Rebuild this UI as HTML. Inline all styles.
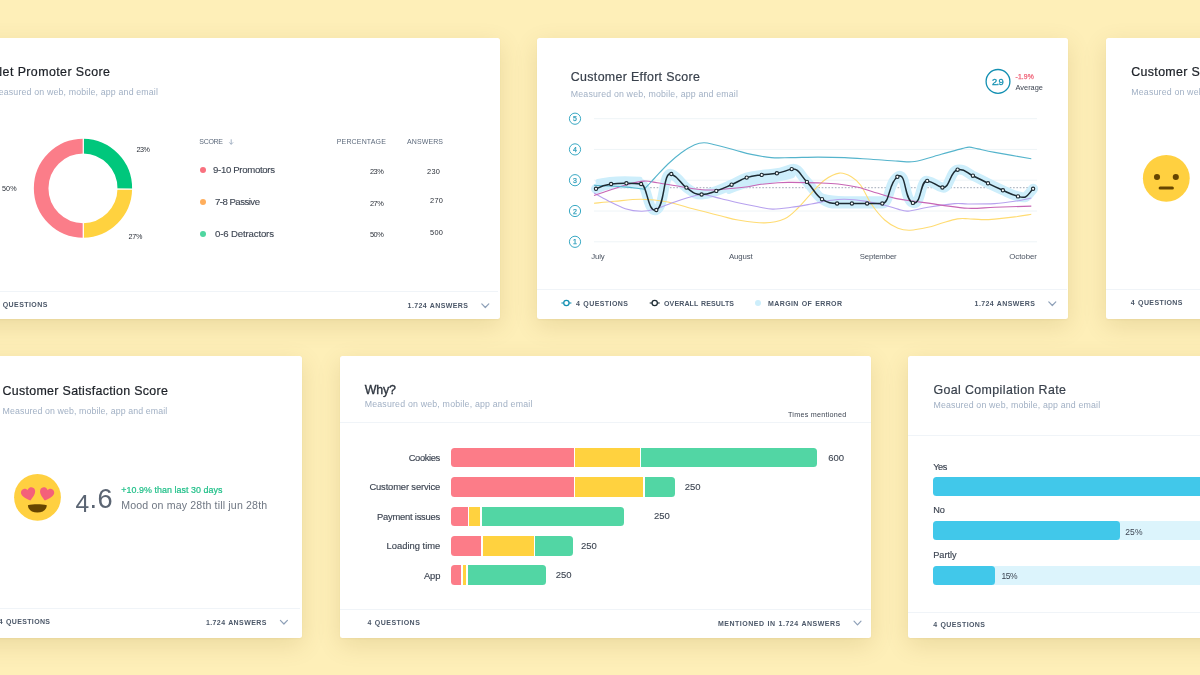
<!DOCTYPE html>
<html lang="en"><head><meta charset="utf-8"><title>Survey dashboard cards</title>
<style>
html,body{margin:0;padding:0}
body{width:1200px;height:675px;overflow:hidden;position:relative;background:#feefb8;font-family:"Liberation Sans",sans-serif}
.t{position:absolute;white-space:nowrap}
svg{overflow:visible;pointer-events:none}
</style></head><body>
<div style="position:absolute;left:-31.00px;top:38.00px;width:531.00px;height:281.00px;background:#fff;border-radius:2.5px;box-shadow:0 7px 24px rgba(110,85,10,.14),0 1px 2px rgba(110,85,10,.05);"></div>
<div style="position:absolute;left:537.00px;top:38.00px;width:531.20px;height:281.00px;background:#fff;border-radius:2.5px;box-shadow:0 7px 24px rgba(110,85,10,.14),0 1px 2px rgba(110,85,10,.05);"></div>
<div style="position:absolute;left:1106.00px;top:38.00px;width:531.00px;height:281.00px;background:#fff;border-radius:2.5px;box-shadow:0 7px 24px rgba(110,85,10,.14),0 1px 2px rgba(110,85,10,.05);"></div>
<div style="position:absolute;left:-229.00px;top:356.00px;width:531.00px;height:282.00px;background:#fff;border-radius:2.5px;box-shadow:0 7px 24px rgba(110,85,10,.14),0 1px 2px rgba(110,85,10,.05);"></div>
<div style="position:absolute;left:340.00px;top:356.00px;width:531.00px;height:282.00px;background:#fff;border-radius:2.5px;box-shadow:0 7px 24px rgba(110,85,10,.14),0 1px 2px rgba(110,85,10,.05);"></div>
<div style="position:absolute;left:908.30px;top:356.00px;width:531.00px;height:282.00px;background:#fff;border-radius:2.5px;box-shadow:0 7px 24px rgba(110,85,10,.14),0 1px 2px rgba(110,85,10,.05);"></div>
<span class="t" style="left:-6.80px;top:65px;line-height:14px;font-size:12.4px;color:#1c2027;letter-spacing:0.425px;-webkit-text-stroke:0.22px #1c2027;">Net Promoter Score</span>
<span class="t" style="left:-8.80px;top:87px;line-height:10px;font-size:8.8px;color:#a1b0c4;letter-spacing:0.158px;">Measured on web, mobile, app and email</span>
<svg style="position:absolute;left:0;top:0" width="1200" height="675"><path d="M83.30 146.15 A42.15 42.15 0 0 1 124.80 188.95" fill="none" stroke="#00c77c" stroke-width="14.60"/><path d="M124.80 188.95 A42.15 42.15 0 0 1 83.30 230.45" fill="none" stroke="#ffd23f" stroke-width="14.60"/><path d="M83.30 230.45 A42.15 42.15 0 1 1 83.30 146.15" fill="none" stroke="#fb7d89" stroke-width="14.60"/><path d="M83.3 137 V155 M83.3 221 V240 M116 189 H134" stroke="#fff" stroke-width="1.25" fill="none"/></svg>
<span class="t" style="left:136.50px;top:145px;line-height:9px;font-size:7.2px;color:#2a2f38;letter-spacing:-0.455px;">23%</span>
<span class="t" style="left:2.00px;top:184px;line-height:9px;font-size:7.2px;color:#2a2f38;letter-spacing:0.095px;">50%</span>
<span class="t" style="left:128.60px;top:232px;line-height:9px;font-size:7.2px;color:#2a2f38;letter-spacing:-0.255px;">27%</span>
<span class="t" style="left:199.30px;top:138px;line-height:7px;font-size:7px;color:#5d6a7c;letter-spacing:-0.298px;">SCORE</span>
<svg style="position:absolute;left:0;top:0" width="1200" height="675"><path d="M231.2 139.3 V144.3 M229.3 142.4 L231.2 144.3 L233.1 142.4" fill="none" stroke="#9aa9bd" stroke-width="0.9"/></svg>
<span class="t" style="left:336.80px;top:138px;line-height:7px;font-size:7px;color:#5d6a7c;letter-spacing:0.143px;">PERCENTAGE</span>
<span class="t" style="left:407.00px;top:138px;line-height:7px;font-size:7px;color:#5d6a7c;letter-spacing:0.101px;">ANSWERS</span>
<div style="position:absolute;left:199.90px;top:167.20px;width:6.20px;height:6.20px;background:#f9717f;border-radius:50%;"></div>
<span class="t" style="left:213.00px;top:164px;line-height:11px;font-size:9.6px;color:#3d4552;letter-spacing:-0.320px;-webkit-text-stroke:0.12px #3d4552;">9-10 Promotors</span>
<span class="t" style="left:370.00px;top:167px;line-height:9px;font-size:7.4px;color:#2a2f38;letter-spacing:-0.505px;">23%</span>
<span class="t" style="left:427.00px;top:167px;line-height:9px;font-size:7.4px;color:#2a2f38;letter-spacing:0.327px;">230</span>
<div style="position:absolute;left:199.90px;top:198.90px;width:6.20px;height:6.20px;background:#ffae5c;border-radius:50%;"></div>
<span class="t" style="left:215.00px;top:196px;line-height:11px;font-size:9.6px;color:#3d4552;letter-spacing:-0.516px;-webkit-text-stroke:0.12px #3d4552;">7-8 Passive</span>
<span class="t" style="left:370.00px;top:199px;line-height:9px;font-size:7.4px;color:#2a2f38;letter-spacing:-0.505px;">27%</span>
<span class="t" style="left:430.00px;top:196px;line-height:9px;font-size:7.4px;color:#2a2f38;letter-spacing:0.327px;">270</span>
<div style="position:absolute;left:199.90px;top:230.90px;width:6.20px;height:6.20px;background:#4fd6a0;border-radius:50%;"></div>
<span class="t" style="left:215.00px;top:228px;line-height:11px;font-size:9.6px;color:#3d4552;letter-spacing:-0.140px;-webkit-text-stroke:0.12px #3d4552;">0-6 Detractors</span>
<span class="t" style="left:370.00px;top:230px;line-height:9px;font-size:7.4px;color:#2a2f38;letter-spacing:-0.505px;">50%</span>
<span class="t" style="left:430.00px;top:228px;line-height:9px;font-size:7.4px;color:#2a2f38;letter-spacing:0.327px;">500</span>
<div style="position:absolute;left:-31.00px;top:290.90px;width:529.00px;height:1.40px;background:#f0f4f8;"></div>
<span class="t" style="left:-4.60px;top:301px;line-height:7px;font-size:7px;color:#4b5768;letter-spacing:0.433px;font-weight:700;word-spacing:0.6px;">4 QUESTIONS</span>
<span class="t" style="left:407.60px;top:302px;line-height:7px;font-size:7px;color:#4b5768;letter-spacing:0.402px;font-weight:700;word-spacing:0.6px;">1.724 ANSWERS</span>
<svg style="position:absolute;left:0;top:0" width="1200" height="675"><path d="M481.80 303.90 L485.30 307.50 L488.80 303.90" fill="none" stroke="#8ea0b8" stroke-width="1.2" stroke-linecap="round" stroke-linejoin="round"/></svg>
<span class="t" style="left:570.80px;top:70px;line-height:14px;font-size:12.4px;color:#39414c;letter-spacing:0.338px;-webkit-text-stroke:0.2px #39414c;">Customer Effort Score</span>
<span class="t" style="left:570.80px;top:89px;line-height:10px;font-size:8.8px;color:#a1b0c4;letter-spacing:0.169px;">Measured on web, mobile, app and email</span>
<svg style="position:absolute;left:0;top:0" width="1200" height="675"><circle cx="998" cy="81.4" r="11.9" fill="#fff" stroke="#1390b2" stroke-width="1.3"/></svg>
<span class="t" style="left:992.00px;top:76px;line-height:11px;font-size:9.4px;color:#1390b2;letter-spacing:-0.634px;-webkit-text-stroke:0.3px #1390b2;">2.9</span>
<span class="t" style="left:1015.50px;top:73px;line-height:7px;font-size:6.8px;color:#f0667b;letter-spacing:0.134px;-webkit-text-stroke:0.25px #f0667b;">-1.9%</span>
<span class="t" style="left:1015.50px;top:83px;line-height:9px;font-size:7.4px;color:#3d4552;letter-spacing:0.012px;">Average</span>
<svg style="position:absolute;left:0;top:0" width="1200" height="675"><path d="M594 118.7 H1037" stroke="#eef4f7" stroke-width="1" fill="none"/><path d="M594 149.4 H1037" stroke="#eef4f7" stroke-width="1" fill="none"/><path d="M594 180.2 H1037" stroke="#eef4f7" stroke-width="1" fill="none"/><path d="M594 211.0 H1037" stroke="#eef4f7" stroke-width="1" fill="none"/><path d="M594 241.8 H1037" stroke="#eef4f7" stroke-width="1" fill="none"/><path d="M594 187.7 H1037" stroke="#b3bac5" stroke-width="1.2" stroke-dasharray="1.6 1.7" fill="none"/><path d="M596.00 188.80 C602.34 185.31 604.76 184.76 611.10 184.00 C617.53 183.23 619.97 183.30 626.40 183.30 C632.57 183.30 634.93 183.26 641.10 184.00 C647.48 184.77 647.48 213.09 656.30 210.00 C665.00 206.96 663.05 170.29 671.30 174.00 C679.61 177.74 680.06 183.16 686.40 187.60 C692.78 192.07 694.00 194.50 701.60 194.50 C708.95 194.50 710.13 192.88 716.30 190.90 C722.73 188.84 725.17 187.46 731.60 184.70 C737.94 181.97 740.36 179.63 746.70 177.60 C753.00 175.58 755.40 175.72 761.70 174.90 C768.08 174.07 770.52 174.39 776.90 173.30 C783.12 172.24 785.04 170.77 791.70 169.10 C798.54 167.39 800.52 175.52 806.90 181.90 C813.24 188.24 815.66 195.27 822.00 199.20 C828.34 203.13 830.76 203.50 837.10 203.50 C843.32 203.50 845.68 203.50 851.90 203.50 C858.28 203.50 860.72 203.50 867.10 203.50 C873.48 203.50 874.70 203.50 882.30 203.50 C889.85 203.50 888.34 183.14 897.40 176.80 C906.70 170.29 903.60 199.65 912.90 202.90 C921.48 205.90 920.05 179.83 927.20 180.90 C934.80 182.04 935.10 185.68 942.40 187.50 C949.70 189.32 950.00 170.84 957.60 169.70 C965.25 168.55 966.47 172.81 972.90 175.70 C979.24 178.55 981.66 180.19 988.00 183.30 C994.26 186.37 996.64 187.48 1002.90 190.30 C1009.24 193.15 1008.64 193.59 1018.00 196.40 C1027.36 199.21 1026.76 195.78 1033.10 188.80" fill="none" stroke="#cdeefb" stroke-width="10" stroke-linecap="round" stroke-linejoin="round"/><path d="M822 196.5 C830 198.8 836 199.3 845 199.3 H884" fill="none" stroke="#cdeefb" stroke-width="6" stroke-linecap="round"/><path d="M729 191 C740 186.5 752 183.2 762 181.6 C772 180 782 178.4 792 175.4" fill="none" stroke="#cdeefb" stroke-width="6" stroke-linecap="round"/><path d="M598 181.5 C608 178.8 625 178.2 640 179.2" fill="none" stroke="#cdeefb" stroke-width="5" stroke-linecap="round"/><path d="M594.00 203.30 C597.45 202.97 606.82 201.97 614.70 201.30 C622.58 200.63 632.42 199.18 641.30 199.30 C650.18 199.42 659.10 200.33 668.00 202.00 C676.90 203.67 685.82 206.97 694.70 209.30 C703.58 211.63 714.08 214.22 721.30 216.00 C728.52 217.78 730.77 218.85 738.00 220.00 C745.23 221.15 756.92 223.12 764.70 222.90 C772.48 222.68 779.15 221.18 784.70 218.70 C790.25 216.22 793.57 212.23 798.00 208.00 C802.43 203.77 806.85 197.97 811.30 193.30 C815.75 188.63 820.03 183.37 824.70 180.00 C829.37 176.63 834.87 173.65 839.30 173.10 C843.73 172.55 847.73 174.67 851.30 176.70 C854.87 178.73 857.37 180.75 860.70 185.30 C864.03 189.85 867.30 198.22 871.30 204.00 C875.30 209.78 880.25 215.97 884.70 220.00 C889.15 224.03 893.78 226.50 898.00 228.20 C902.22 229.90 905.00 230.35 910.00 230.20 C915.00 230.05 922.78 228.45 928.00 227.30 C933.22 226.15 936.42 224.70 941.30 223.30 C946.18 221.90 952.85 219.67 957.30 218.90 C961.75 218.13 964.00 218.58 968.00 218.70 C972.00 218.82 976.85 219.53 981.30 219.60 C985.75 219.67 989.13 219.55 994.70 219.10 C1000.27 218.65 1008.60 217.70 1014.70 216.90 C1020.80 216.10 1028.53 214.73 1031.30 214.30" fill="none" stroke="#ffdc73" stroke-width="1.1"/><path d="M594.00 193.00 C596.33 194.28 602.78 198.08 608.00 200.70 C613.22 203.32 619.75 206.93 625.30 208.70 C630.85 210.47 636.40 211.20 641.30 211.30 C646.20 211.40 649.13 210.85 654.70 209.30 C660.27 207.75 668.03 204.25 674.70 202.00 C681.37 199.75 689.82 197.00 694.70 195.80 C699.58 194.60 699.57 194.32 704.00 194.80 C708.43 195.28 715.63 197.38 721.30 198.70 C726.97 200.02 731.88 201.37 738.00 202.70 C744.12 204.03 752.22 205.63 758.00 206.70 C763.78 207.77 767.15 209.00 772.70 209.10 C778.25 209.20 784.87 208.15 791.30 207.30 C797.73 206.45 804.63 205.17 811.30 204.00 C817.97 202.83 825.73 201.08 831.30 200.30 C836.87 199.52 839.13 199.17 844.70 199.30 C850.27 199.43 858.03 200.10 864.70 201.10 C871.37 202.10 879.15 203.97 884.70 205.30 C890.25 206.63 894.12 208.13 898.00 209.10 C901.88 210.07 903.00 211.40 908.00 211.10 C913.00 210.80 920.22 208.55 928.00 207.30 C935.78 206.05 948.03 204.15 954.70 203.60 C961.37 203.05 961.33 204.00 968.00 204.00 C974.67 204.00 986.92 204.05 994.70 203.60 C1002.48 203.15 1008.60 202.23 1014.70 201.30 C1020.80 200.37 1028.53 198.55 1031.30 198.00" fill="none" stroke="#b7a1ee" stroke-width="1.1"/><path d="M594.00 195.60 C596.33 194.78 602.55 192.52 608.00 190.70 C613.45 188.88 620.70 186.30 626.70 184.70 C632.70 183.10 638.90 181.43 644.00 181.10 C649.10 180.77 651.08 181.77 657.30 182.70 C663.52 183.63 673.30 185.48 681.30 186.70 C689.30 187.92 697.52 189.67 705.30 190.00 C713.08 190.33 720.88 189.25 728.00 188.70 C735.12 188.15 743.00 187.37 748.00 186.70 C753.00 186.03 753.00 185.37 758.00 184.70 C763.00 184.03 772.45 183.08 778.00 182.70 C783.55 182.32 784.63 182.37 791.30 182.40 C797.97 182.43 810.22 182.63 818.00 182.90 C825.78 183.17 831.33 183.27 838.00 184.00 C844.67 184.73 851.33 185.75 858.00 187.30 C864.67 188.85 871.33 191.37 878.00 193.30 C884.67 195.23 891.88 197.57 898.00 198.90 C904.12 200.23 907.48 200.27 914.70 201.30 C921.92 202.33 932.42 203.93 941.30 205.10 C950.18 206.27 959.10 207.93 968.00 208.30 C976.90 208.67 984.15 207.67 994.70 207.30 C1005.25 206.93 1025.20 206.30 1031.30 206.10" fill="none" stroke="#c765b5" stroke-width="1.1"/><path d="M594.00 185.30 C596.78 185.42 605.25 185.70 610.70 186.00 C616.15 186.30 621.60 186.65 626.70 187.10 C631.80 187.55 638.25 188.52 641.30 188.70 C644.35 188.88 642.77 189.98 645.00 188.20 C647.23 186.42 650.87 182.03 654.70 178.00 C658.53 173.97 663.57 168.22 668.00 164.00 C672.43 159.78 676.85 155.92 681.30 152.70 C685.75 149.48 690.92 146.37 694.70 144.70 C698.48 143.03 700.67 142.70 704.00 142.70 C707.33 142.70 709.58 143.48 714.70 144.70 C719.82 145.92 728.60 148.38 734.70 150.00 C740.80 151.62 745.20 153.13 751.30 154.40 C757.40 155.67 764.63 157.07 771.30 157.60 C777.97 158.13 783.52 157.68 791.30 157.60 C799.08 157.52 809.10 157.10 818.00 157.10 C826.90 157.10 835.82 157.23 844.70 157.60 C853.58 157.97 862.42 158.72 871.30 159.30 C880.18 159.88 890.77 160.73 898.00 161.10 C905.23 161.47 907.48 162.63 914.70 161.50 C921.92 160.37 933.42 156.45 941.30 154.30 C949.18 152.15 957.33 149.80 962.00 148.60 C966.67 147.40 966.63 147.05 969.30 147.10 C971.97 147.15 973.77 148.02 978.00 148.90 C982.23 149.78 985.82 150.77 994.70 152.40 C1003.58 154.03 1025.20 157.65 1031.30 158.70" fill="none" stroke="#55b4cc" stroke-width="1.1"/><path d="M596.00 188.80 C602.34 185.31 604.76 184.76 611.10 184.00 C617.53 183.23 619.97 183.30 626.40 183.30 C632.57 183.30 634.93 183.26 641.10 184.00 C647.48 184.77 647.48 213.09 656.30 210.00 C665.00 206.96 663.05 170.29 671.30 174.00 C679.61 177.74 680.06 183.16 686.40 187.60 C692.78 192.07 694.00 194.50 701.60 194.50 C708.95 194.50 710.13 192.88 716.30 190.90 C722.73 188.84 725.17 187.46 731.60 184.70 C737.94 181.97 740.36 179.63 746.70 177.60 C753.00 175.58 755.40 175.72 761.70 174.90 C768.08 174.07 770.52 174.39 776.90 173.30 C783.12 172.24 785.04 170.77 791.70 169.10 C798.54 167.39 800.52 175.52 806.90 181.90 C813.24 188.24 815.66 195.27 822.00 199.20 C828.34 203.13 830.76 203.50 837.10 203.50 C843.32 203.50 845.68 203.50 851.90 203.50 C858.28 203.50 860.72 203.50 867.10 203.50 C873.48 203.50 874.70 203.50 882.30 203.50 C889.85 203.50 888.34 183.14 897.40 176.80 C906.70 170.29 903.60 199.65 912.90 202.90 C921.48 205.90 920.05 179.83 927.20 180.90 C934.80 182.04 935.10 185.68 942.40 187.50 C949.70 189.32 950.00 170.84 957.60 169.70 C965.25 168.55 966.47 172.81 972.90 175.70 C979.24 178.55 981.66 180.19 988.00 183.30 C994.26 186.37 996.64 187.48 1002.90 190.30 C1009.24 193.15 1008.64 193.59 1018.00 196.40 C1027.36 199.21 1026.76 195.78 1033.10 188.80" fill="none" stroke="#1d2b33" stroke-width="1.5" stroke-linejoin="round"/><circle cx="596.0" cy="188.8" r="1.65" fill="#fff" stroke="#1d2b33" stroke-width="1.1"/><circle cx="611.1" cy="184.0" r="1.65" fill="#fff" stroke="#1d2b33" stroke-width="1.1"/><circle cx="626.4" cy="183.3" r="1.65" fill="#fff" stroke="#1d2b33" stroke-width="1.1"/><circle cx="641.1" cy="184.0" r="1.65" fill="#fff" stroke="#1d2b33" stroke-width="1.1"/><circle cx="656.3" cy="210.0" r="1.65" fill="#fff" stroke="#1d2b33" stroke-width="1.1"/><circle cx="671.3" cy="174.0" r="1.65" fill="#fff" stroke="#1d2b33" stroke-width="1.1"/><circle cx="686.4" cy="187.6" r="1.65" fill="#fff" stroke="#1d2b33" stroke-width="1.1"/><circle cx="701.6" cy="194.5" r="1.65" fill="#fff" stroke="#1d2b33" stroke-width="1.1"/><circle cx="716.3" cy="190.9" r="1.65" fill="#fff" stroke="#1d2b33" stroke-width="1.1"/><circle cx="731.6" cy="184.7" r="1.65" fill="#fff" stroke="#1d2b33" stroke-width="1.1"/><circle cx="746.7" cy="177.6" r="1.65" fill="#fff" stroke="#1d2b33" stroke-width="1.1"/><circle cx="761.7" cy="174.9" r="1.65" fill="#fff" stroke="#1d2b33" stroke-width="1.1"/><circle cx="776.9" cy="173.3" r="1.65" fill="#fff" stroke="#1d2b33" stroke-width="1.1"/><circle cx="791.7" cy="169.1" r="1.65" fill="#fff" stroke="#1d2b33" stroke-width="1.1"/><circle cx="806.9" cy="181.9" r="1.65" fill="#fff" stroke="#1d2b33" stroke-width="1.1"/><circle cx="822.0" cy="199.2" r="1.65" fill="#fff" stroke="#1d2b33" stroke-width="1.1"/><circle cx="837.1" cy="203.5" r="1.65" fill="#fff" stroke="#1d2b33" stroke-width="1.1"/><circle cx="851.9" cy="203.5" r="1.65" fill="#fff" stroke="#1d2b33" stroke-width="1.1"/><circle cx="867.1" cy="203.5" r="1.65" fill="#fff" stroke="#1d2b33" stroke-width="1.1"/><circle cx="882.3" cy="203.5" r="1.65" fill="#fff" stroke="#1d2b33" stroke-width="1.1"/><circle cx="897.4" cy="176.8" r="1.65" fill="#fff" stroke="#1d2b33" stroke-width="1.1"/><circle cx="912.9" cy="202.9" r="1.65" fill="#fff" stroke="#1d2b33" stroke-width="1.1"/><circle cx="927.2" cy="180.9" r="1.65" fill="#fff" stroke="#1d2b33" stroke-width="1.1"/><circle cx="942.4" cy="187.5" r="1.65" fill="#fff" stroke="#1d2b33" stroke-width="1.1"/><circle cx="957.6" cy="169.7" r="1.65" fill="#fff" stroke="#1d2b33" stroke-width="1.1"/><circle cx="972.9" cy="175.7" r="1.65" fill="#fff" stroke="#1d2b33" stroke-width="1.1"/><circle cx="988.0" cy="183.3" r="1.65" fill="#fff" stroke="#1d2b33" stroke-width="1.1"/><circle cx="1002.9" cy="190.3" r="1.65" fill="#fff" stroke="#1d2b33" stroke-width="1.1"/><circle cx="1018.0" cy="196.4" r="1.65" fill="#fff" stroke="#1d2b33" stroke-width="1.1"/><circle cx="1033.1" cy="188.8" r="1.65" fill="#fff" stroke="#1d2b33" stroke-width="1.1"/><circle cx="575" cy="118.7" r="5.6" fill="#fff" stroke="#3aa9c4" stroke-width="1"/><circle cx="575" cy="149.4" r="5.6" fill="#fff" stroke="#3aa9c4" stroke-width="1"/><circle cx="575" cy="180.2" r="5.6" fill="#fff" stroke="#3aa9c4" stroke-width="1"/><circle cx="575" cy="211.0" r="5.6" fill="#fff" stroke="#3aa9c4" stroke-width="1"/><circle cx="575" cy="241.8" r="5.6" fill="#fff" stroke="#3aa9c4" stroke-width="1"/></svg>
<span class="t" style="left:573.10px;top:115px;line-height:7px;font-size:7px;color:#2f9fbc;-webkit-text-stroke:0.25px #2f9fbc;">5</span>
<span class="t" style="left:573.10px;top:146px;line-height:7px;font-size:7px;color:#2f9fbc;-webkit-text-stroke:0.25px #2f9fbc;">4</span>
<span class="t" style="left:573.10px;top:177px;line-height:7px;font-size:7px;color:#2f9fbc;-webkit-text-stroke:0.25px #2f9fbc;">3</span>
<span class="t" style="left:573.10px;top:208px;line-height:7px;font-size:7px;color:#2f9fbc;-webkit-text-stroke:0.25px #2f9fbc;">2</span>
<span class="t" style="left:573.10px;top:238px;line-height:7px;font-size:7px;color:#2f9fbc;-webkit-text-stroke:0.25px #2f9fbc;">1</span>
<span class="t" style="left:591.30px;top:252px;line-height:9px;font-size:7.8px;color:#4a5361;letter-spacing:-0.190px;">July</span>
<span class="t" style="left:729.00px;top:252px;line-height:9px;font-size:7.8px;color:#4a5361;letter-spacing:-0.097px;">August</span>
<span class="t" style="left:859.70px;top:252px;line-height:9px;font-size:7.8px;color:#4a5361;letter-spacing:-0.144px;">September</span>
<span class="t" style="left:1009.30px;top:252px;line-height:9px;font-size:7.8px;color:#4a5361;letter-spacing:-0.024px;">October</span>
<div style="position:absolute;left:537.00px;top:288.70px;width:529.50px;height:1.40px;background:#f0f4f8;"></div>
<svg style="position:absolute;left:0;top:0" width="1200" height="675"><path d="M561.4 303 H571.4" stroke="#1390b2" stroke-width="1.1"/><circle cx="566.4" cy="303" r="2.65" fill="#fff" stroke="#1390b2" stroke-width="1.25"/></svg>
<span class="t" style="left:576.00px;top:300px;line-height:7px;font-size:7px;color:#4b5768;letter-spacing:0.433px;font-weight:700;word-spacing:0.6px;">4 QUESTIONS</span>
<svg style="position:absolute;left:0;top:0" width="1200" height="675"><path d="M649.7 303 H659.7" stroke="#1d2b33" stroke-width="1.1"/><circle cx="654.7" cy="303" r="2.65" fill="#fff" stroke="#1d2b33" stroke-width="1.25"/></svg>
<span class="t" style="left:664.00px;top:300px;line-height:7px;font-size:7px;color:#4b5768;letter-spacing:0.142px;font-weight:700;word-spacing:0.6px;">OVERALL RESULTS</span>
<div style="position:absolute;left:754.70px;top:299.70px;width:6.60px;height:6.60px;background:#cdeefb;border-radius:50%;"></div>
<span class="t" style="left:768.00px;top:300px;line-height:7px;font-size:7px;color:#4b5768;letter-spacing:0.395px;font-weight:700;word-spacing:0.6px;">MARGIN OF ERROR</span>
<span class="t" style="left:974.60px;top:300px;line-height:7px;font-size:7px;color:#4b5768;letter-spacing:0.402px;font-weight:700;word-spacing:0.6px;">1.724 ANSWERS</span>
<svg style="position:absolute;left:0;top:0" width="1200" height="675"><path d="M1048.80 301.90 L1052.30 305.50 L1055.80 301.90" fill="none" stroke="#8ea0b8" stroke-width="1.2" stroke-linecap="round" stroke-linejoin="round"/></svg>
<span class="t" style="left:1131.30px;top:65px;line-height:14px;font-size:12.4px;color:#1c2027;letter-spacing:0.341px;-webkit-text-stroke:0.22px #1c2027;">Customer Satisfaction Score</span>
<span class="t" style="left:1131.30px;top:87px;line-height:10px;font-size:8.8px;color:#a1b0c4;letter-spacing:0.169px;">Measured on web, mobile, app and email</span>
<svg style="position:absolute;left:0;top:0" width="1200" height="675"><circle cx="1166.3" cy="178.3" r="23.4" fill="#ffd040"/><circle cx="1157" cy="177" r="3.05" fill="#664500"/><circle cx="1175.8" cy="177" r="3.05" fill="#664500"/><path d="M1160.1 188 H1172.4" stroke="#664500" stroke-width="3" stroke-linecap="round"/></svg>
<div style="position:absolute;left:1106.00px;top:288.70px;width:94.00px;height:1.40px;background:#f0f4f8;"></div>
<span class="t" style="left:1130.80px;top:299px;line-height:7px;font-size:7px;color:#4b5768;letter-spacing:0.403px;font-weight:700;word-spacing:0.6px;">4 QUESTIONS</span>
<span class="t" style="left:2.50px;top:384px;line-height:14px;font-size:12.4px;color:#1c2027;letter-spacing:0.322px;-webkit-text-stroke:0.22px #1c2027;">Customer Satisfaction Score</span>
<span class="t" style="left:2.50px;top:406px;line-height:10px;font-size:8.8px;color:#a1b0c4;letter-spacing:0.102px;">Measured on web, mobile, app and email</span>
<svg style="position:absolute;left:0;top:0" width="1200" height="675"><circle cx="37.5" cy="497.3" r="23.4" fill="#ffd040"/>
<g fill="#f4607a"><path transform="translate(28.7,494.5) rotate(-14) scale(0.6)" d="M0 10.5 C-3 8 -12 2 -12 -4.5 C-12 -9 -8.5 -11 -5.8 -11 C-3 -11 -1 -9.3 0 -7.3 C1 -9.3 3 -11 5.8 -11 C8.5 -11 12 -9 12 -4.5 C12 2 3 8 0 10.5Z"/>
<path transform="translate(46.5,494.5) rotate(14) scale(0.6)" d="M0 10.5 C-3 8 -12 2 -12 -4.5 C-12 -9 -8.5 -11 -5.8 -11 C-3 -11 -1 -9.3 0 -7.3 C1 -9.3 3 -11 5.8 -11 C8.5 -11 12 -9 12 -4.5 C12 2 3 8 0 10.5Z"/></g>
<path d="M27.9 505.3 C33 504 41.5 504 46.8 505.3 C46.5 510 42.5 512.6 37.35 512.6 C32.2 512.6 28.2 510 27.9 505.3Z" fill="#664500"/></svg>
<span class="t" style="left:75.6px;top:481px;line-height:36px;font-size:27.2px;color:#5b6573;letter-spacing:0.3px"><span style="font-size:24.6px;position:relative;top:4px">4</span>.6</span>
<span class="t" style="left:121.30px;top:485px;line-height:10px;font-size:8.9px;color:#1dbf87;letter-spacing:0.048px;-webkit-text-stroke:0.2px #1dbf87;">+10.9% than last 30 days</span>
<span class="t" style="left:121.30px;top:499px;line-height:12px;font-size:10.6px;color:#6f7783;letter-spacing:0.155px;">Mood on may 28th till jun 28th</span>
<div style="position:absolute;left:-229.00px;top:607.70px;width:529.00px;height:1.40px;background:#f0f4f8;"></div>
<span class="t" style="left:-1.20px;top:618px;line-height:7px;font-size:7px;color:#4b5768;letter-spacing:0.353px;font-weight:700;word-spacing:0.6px;">4 QUESTIONS</span>
<span class="t" style="left:205.90px;top:619px;line-height:7px;font-size:7px;color:#4b5768;letter-spacing:0.410px;font-weight:700;word-spacing:0.6px;">1.724 ANSWERS</span>
<svg style="position:absolute;left:0;top:0" width="1200" height="675"><path d="M280.40 620.40 L283.90 624.00 L287.40 620.40" fill="none" stroke="#8ea0b8" stroke-width="1.2" stroke-linecap="round" stroke-linejoin="round"/></svg>
<span class="t" style="left:364.70px;top:383px;line-height:14px;font-size:12.4px;color:#2e353f;letter-spacing:-0.132px;-webkit-text-stroke:0.35px #2e353f;">Why?</span>
<span class="t" style="left:364.70px;top:399px;line-height:10px;font-size:8.8px;color:#a1b0c4;letter-spacing:0.183px;">Measured on web, mobile, app and email</span>
<span class="t" style="left:788.00px;top:410px;line-height:9px;font-size:7.2px;color:#3d4552;letter-spacing:0.246px;">Times mentioned</span>
<div style="position:absolute;left:340.00px;top:421.50px;width:531.00px;height:1.40px;background:#f0f4f8;"></div>
<div style="position:absolute;left:450.70px;top:447.60px;width:123.10px;height:19.60px;background:#fc7c88;border-radius:3.5px 0 0 3.5px;"></div>
<div style="position:absolute;left:575.30px;top:447.60px;width:64.40px;height:19.60px;background:#ffd23f;border-radius:0;"></div>
<div style="position:absolute;left:641.20px;top:447.60px;width:175.70px;height:19.60px;background:#52d6a4;border-radius:0 3.5px 3.5px 0;"></div>
<span class="t" style="left:408.70px;top:452px;line-height:11px;font-size:9.4px;color:#3d4552;letter-spacing:-0.377px;-webkit-text-stroke:0.15px #3d4552;">Cookies</span>
<span class="t" style="left:828.30px;top:452px;line-height:11px;font-size:9.5px;color:#3d4552;-webkit-text-stroke:0.1px #3d4552;">600</span>
<div style="position:absolute;left:450.70px;top:477.10px;width:123.10px;height:19.60px;background:#fc7c88;border-radius:3.5px 0 0 3.5px;"></div>
<div style="position:absolute;left:575.30px;top:477.10px;width:68.20px;height:19.60px;background:#ffd23f;border-radius:0;"></div>
<div style="position:absolute;left:645.00px;top:477.10px;width:30.30px;height:19.60px;background:#52d6a4;border-radius:0 3.5px 3.5px 0;"></div>
<span class="t" style="left:369.40px;top:481px;line-height:11px;font-size:9.4px;color:#3d4552;letter-spacing:-0.142px;-webkit-text-stroke:0.15px #3d4552;">Customer service</span>
<span class="t" style="left:684.80px;top:481px;line-height:11px;font-size:9.5px;color:#3d4552;-webkit-text-stroke:0.1px #3d4552;">250</span>
<div style="position:absolute;left:450.70px;top:506.50px;width:16.90px;height:19.60px;background:#fc7c88;border-radius:3.5px 0 0 3.5px;"></div>
<div style="position:absolute;left:469.10px;top:506.50px;width:10.90px;height:19.60px;background:#ffd23f;border-radius:0;"></div>
<div style="position:absolute;left:481.50px;top:506.50px;width:142.60px;height:19.60px;background:#52d6a4;border-radius:0 3.5px 3.5px 0;"></div>
<span class="t" style="left:377.00px;top:511px;line-height:11px;font-size:9.4px;color:#3d4552;letter-spacing:-0.227px;-webkit-text-stroke:0.15px #3d4552;">Payment issues</span>
<span class="t" style="left:654.00px;top:510px;line-height:11px;font-size:9.5px;color:#3d4552;-webkit-text-stroke:0.1px #3d4552;">250</span>
<div style="position:absolute;left:450.70px;top:536.00px;width:30.30px;height:19.60px;background:#fc7c88;border-radius:3.5px 0 0 3.5px;"></div>
<div style="position:absolute;left:482.60px;top:536.00px;width:51.30px;height:19.60px;background:#ffd23f;border-radius:0;"></div>
<div style="position:absolute;left:535.40px;top:536.00px;width:38.10px;height:19.60px;background:#52d6a4;border-radius:0 3.5px 3.5px 0;"></div>
<span class="t" style="left:386.50px;top:540px;line-height:11px;font-size:9.4px;color:#3d4552;letter-spacing:0.007px;-webkit-text-stroke:0.15px #3d4552;">Loading time</span>
<span class="t" style="left:581.00px;top:540px;line-height:11px;font-size:9.5px;color:#3d4552;-webkit-text-stroke:0.1px #3d4552;">250</span>
<div style="position:absolute;left:450.70px;top:565.40px;width:10.30px;height:19.60px;background:#fc7c88;border-radius:3.5px 0 0 3.5px;"></div>
<div style="position:absolute;left:462.50px;top:565.40px;width:3.80px;height:19.60px;background:#ffd23f;border-radius:0;"></div>
<div style="position:absolute;left:467.70px;top:565.40px;width:78.00px;height:19.60px;background:#52d6a4;border-radius:0 3.5px 3.5px 0;"></div>
<span class="t" style="left:424.00px;top:570px;line-height:11px;font-size:9.4px;color:#3d4552;letter-spacing:-0.163px;-webkit-text-stroke:0.15px #3d4552;">App</span>
<span class="t" style="left:555.80px;top:569px;line-height:11px;font-size:9.5px;color:#3d4552;-webkit-text-stroke:0.1px #3d4552;">250</span>
<div style="position:absolute;left:340.00px;top:609.10px;width:531.00px;height:1.40px;background:#f0f4f8;"></div>
<span class="t" style="left:367.50px;top:619px;line-height:7px;font-size:7px;color:#4b5768;letter-spacing:0.463px;font-weight:700;word-spacing:0.6px;">4 QUESTIONS</span>
<span class="t" style="left:718.00px;top:620px;line-height:7px;font-size:7px;color:#4b5768;letter-spacing:0.501px;font-weight:700;word-spacing:0.6px;">MENTIONED IN 1.724 ANSWERS</span>
<svg style="position:absolute;left:0;top:0" width="1200" height="675"><path d="M854.00 621.20 L857.50 624.80 L861.00 621.20" fill="none" stroke="#8ea0b8" stroke-width="1.2" stroke-linecap="round" stroke-linejoin="round"/></svg>
<span class="t" style="left:933.40px;top:383px;line-height:14px;font-size:12.4px;color:#39414c;letter-spacing:0.392px;-webkit-text-stroke:0.2px #39414c;">Goal Compilation Rate</span>
<span class="t" style="left:933.40px;top:400px;line-height:10px;font-size:8.8px;color:#a1b0c4;letter-spacing:0.158px;">Measured on web, mobile, app and email</span>
<div style="position:absolute;left:908.30px;top:435.00px;width:291.70px;height:1.40px;background:#f0f4f8;"></div>
<span class="t" style="left:933.20px;top:462px;line-height:10px;font-size:9.2px;color:#3d4552;letter-spacing:-0.354px;-webkit-text-stroke:0.15px #3d4552;">Yes</span>
<div style="position:absolute;left:933.20px;top:477.10px;width:300.00px;height:18.60px;background:#41c8ea;border-radius:3.5px;"></div>
<span class="t" style="left:933.20px;top:505px;line-height:10px;font-size:9.2px;color:#3d4552;-webkit-text-stroke:0.15px #3d4552;">No</span>
<div style="position:absolute;left:933.20px;top:521.40px;width:300.00px;height:18.70px;background:#dcf4fc;border-radius:3.5px;"></div>
<div style="position:absolute;left:933.20px;top:521.40px;width:187.20px;height:18.70px;background:#41c8ea;border-radius:3.5px;"></div>
<span class="t" style="left:1125.30px;top:527px;line-height:10px;font-size:8.5px;color:#3d4552;letter-spacing:0.094px;">25%</span>
<span class="t" style="left:933.20px;top:550px;line-height:10px;font-size:9.2px;color:#3d4552;-webkit-text-stroke:0.15px #3d4552;">Partly</span>
<div style="position:absolute;left:933.20px;top:566.00px;width:300.00px;height:18.60px;background:#dcf4fc;border-radius:3.5px;"></div>
<div style="position:absolute;left:933.20px;top:566.00px;width:61.40px;height:18.60px;background:#41c8ea;border-radius:3.5px;"></div>
<span class="t" style="left:1001.40px;top:571px;line-height:10px;font-size:8.5px;color:#3d4552;letter-spacing:-0.406px;">15%</span>
<div style="position:absolute;left:908.30px;top:611.90px;width:291.70px;height:1.40px;background:#f0f4f8;"></div>
<span class="t" style="left:933.20px;top:621px;line-height:7px;font-size:7px;color:#4b5768;letter-spacing:0.413px;font-weight:700;word-spacing:0.6px;">4 QUESTIONS</span>
</body></html>
